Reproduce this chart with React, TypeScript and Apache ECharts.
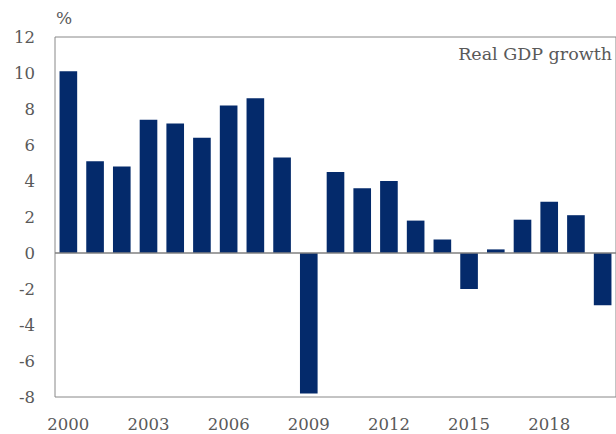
import React, { useEffect, useRef } from "react";
import * as echarts from "echarts";

const years = ["2000","2001","2002","2003","2004","2005","2006","2007","2008","2009","2010","2011","2012","2013","2014","2015","2016","2017","2018","2019","2020"];
const growth = [10.1, 5.1, 4.8, 7.4, 7.2, 6.4, 8.2, 8.6, 5.3, -7.8, 4.5, 3.6, 4.0, 1.8, 0.75, -2.0, 0.2, 1.85, 2.85, 2.1, -2.9];
const yTicks = { min: -8, max: 12, interval: 2 };
const seriesName = "Real GDP growth";
const unitLabel = "%";

const FONT = "'DejaVu Serif', Georgia, serif";
const GRAY = "#595959";

export default function App() {
  const ref = useRef<HTMLDivElement>(null);
  useEffect(() => {
    if (!ref.current) return;
    const chart = echarts.init(ref.current, undefined, { renderer: "svg" });
    chart.setOption({
      animation: false,
      grid: {
        left: 55,
        top: 37,
        width: 571,
        height: 360,
        show: true,
        borderColor: "#888888",
        borderWidth: 1,
        containLabel: false,
      },
      graphic: [
        {
          type: "text",
          left: 56,
          top: 9,
          style: { text: unitLabel, font: `17px ${FONT}`, fill: GRAY },
        },
        {
          type: "text",
          right: 4,
          top: 45,
          style: { text: seriesName, font: `17.5px ${FONT}`, fill: GRAY },
        },
      ],
      xAxis: {
        type: "category",
        data: years,
        axisLine: { show: false },
        axisTick: { show: false },
        axisLabel: {
          interval: 2,
          margin: 19,
          color: GRAY,
          fontFamily: FONT,
          fontSize: 16.5,
        },
      },
      yAxis: {
        type: "value",
        min: yTicks.min,
        max: yTicks.max,
        interval: yTicks.interval,
        axisLine: { show: false },
        axisTick: { show: false },
        splitLine: { show: false },
        axisLabel: {
          margin: 20,
          color: GRAY,
          fontFamily: FONT,
          fontSize: 16.5,
        },
      },
      series: [
        {
          type: "bar",
          name: seriesName,
          data: growth,
          barCategoryGap: "34%",
          itemStyle: { color: "#042A6B" },
          markLine: {
            silent: true,
            symbol: "none",
            label: { show: false },
            lineStyle: { color: "#808080", type: "solid", width: 1.5 },
            data: [{ yAxis: 0 }],
          },
        },
      ],
    });
    return () => chart.dispose();
  }, []);
  return (
    <div
      ref={ref}
      style={{ position: "fixed", left: 0, top: 0, width: 616, height: 434, background: "#fff" }}
    />
  );
}
